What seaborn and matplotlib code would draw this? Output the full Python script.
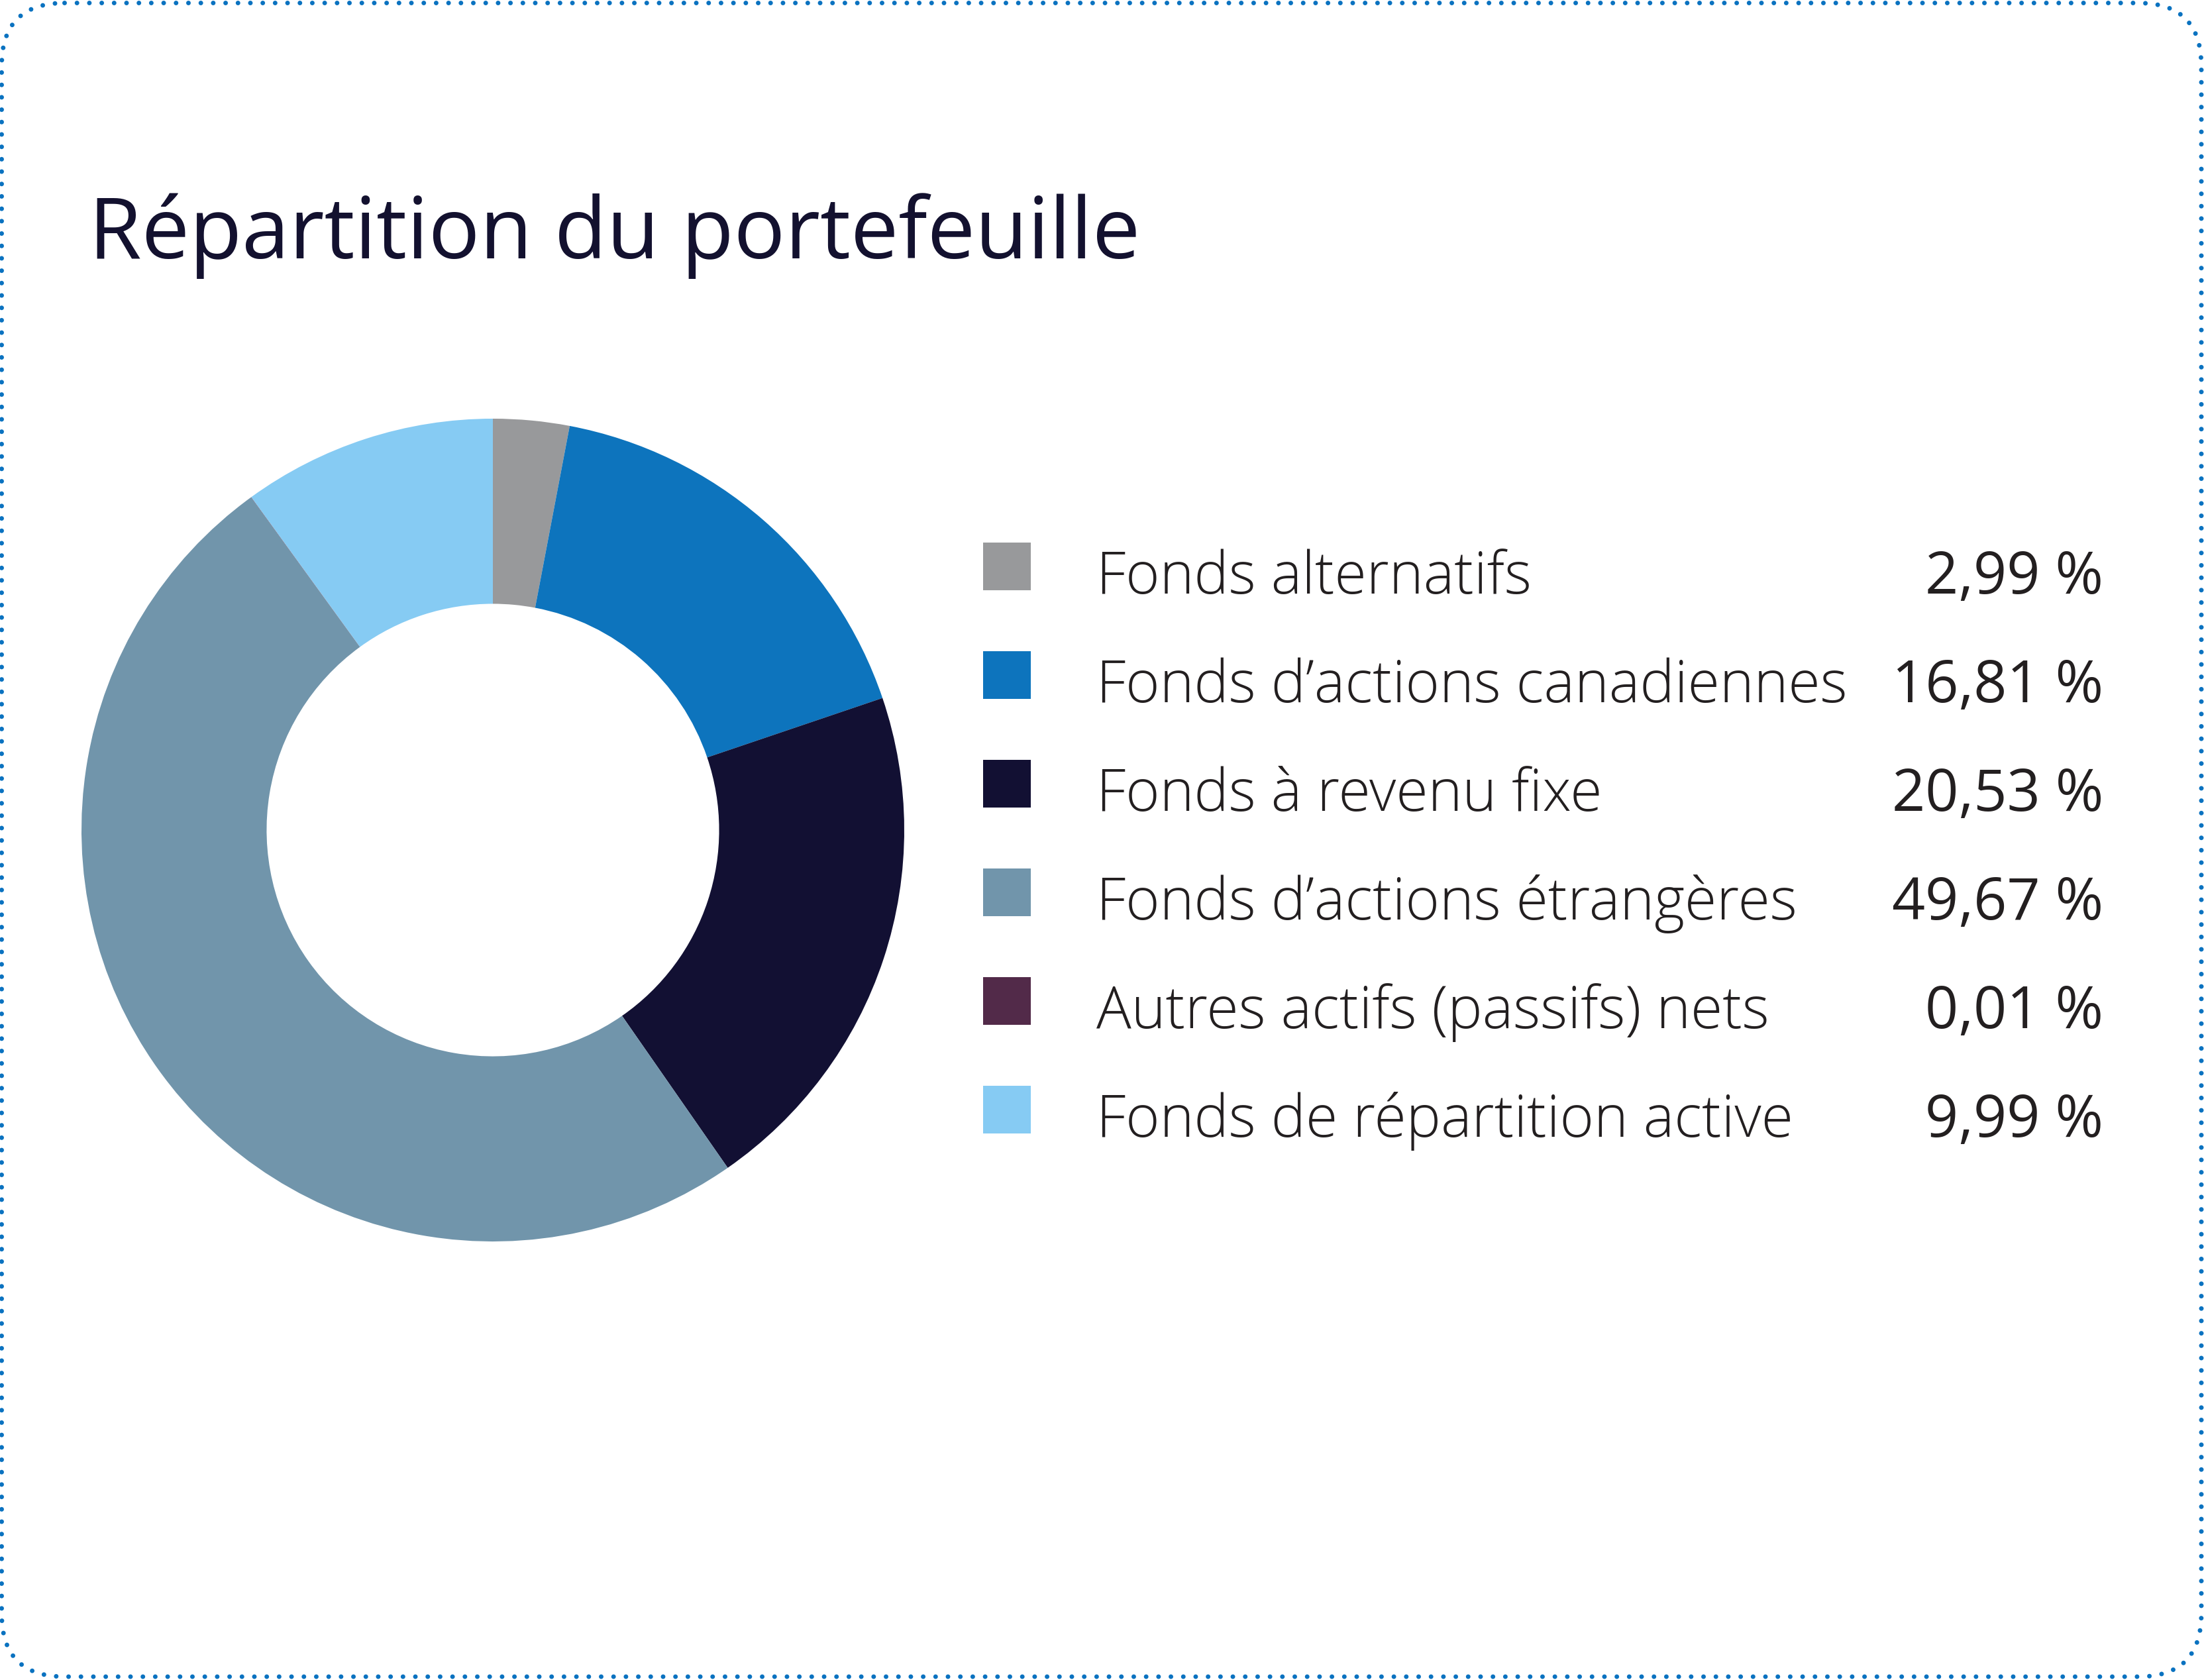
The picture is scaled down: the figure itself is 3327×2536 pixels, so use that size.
import matplotlib
matplotlib.use("Agg")
import matplotlib.pyplot as plt
from matplotlib.patches import FancyBboxPatch
import seaborn as sns
import pandas as pd

# chart data
categories = [
    "Fonds alternatifs",
    "Fonds d\u2019actions canadiennes",
    "Fonds \u00e0 revenu fixe",
    "Fonds d\u2019actions \u00e9trang\u00e8res",
    "Autres actifs (passifs) nets",
    "Fonds de r\u00e9partition active",
]
weights = [2.99, 16.81, 20.53, 49.67, 0.01, 9.99]
value_labels = ["2,99 %", "16,81 %", "20,53 %", "49,67 %", "0,01 %", "9,99 %"]
colors = ["#98999B", "#0D74BD", "#121033", "#7195AB", "#522A49", "#86CBF3"]
title = "R\u00e9partition du portefeuille"

W, H = 3327, 2536
DPI = 100

sns.set_theme(style="white")
plt.rcParams["font.family"] = ["Open Sans", "DejaVu Sans"]

df = pd.DataFrame({"category": categories, "weight": weights,
                   "label": value_labels, "row": range(len(categories))})
palette = sns.color_palette(colors)

fig = plt.figure(figsize=(W / DPI, H / DPI), dpi=DPI)
fig.patch.set_facecolor("white")

# background axes in pixel units for the dotted frame and title
bg = fig.add_axes([0, 0, 1, 1])
bg.set_xlim(0, W)
bg.set_ylim(H, 0)
bg.axis("off")
frame = FancyBboxPatch((2.5, 4.5), W - 2.5 - 4, H - 4.5 - 5,
                       boxstyle="round,pad=0,rounding_size=95",
                       facecolor="none", edgecolor="#0A72C0",
                       linewidth=7 * 72 / DPI, linestyle=(0, (0.001, 2.67)))
frame.set_capstyle("round")
bg.add_patch(frame)
bg.text(134, 390, title, fontsize=93, color="#13112F", ha="left", va="baseline")

# donut
cx, cy, r = 744, 1253, 621
ax = fig.add_axes([(cx - r) / W, (H - cy - r) / H, 2 * r / W, 2 * r / H])
ax.pie(df["weight"], colors=palette, startangle=90, counterclock=False,
       radius=1, wedgeprops=dict(width=0.45, linewidth=0, antialiased=True))
ax.set_xlim(-1, 1)
ax.set_ylim(-1, 1)
ax.set_aspect("equal")
ax.axis("off")

# legend table
row0, step = 855, 164
lx0, lx1 = 1440, 3200
top = row0 - step / 2
lg = fig.add_axes([lx0 / W, (H - top - step * len(df)) / H,
                   (lx1 - lx0) / W, step * len(df) / H])
lg.set_xlim(lx0, lx1)
lg.set_ylim(len(df) - 0.5, -0.5)
lg.axis("off")
sq = 72 * 72 / DPI
sns.scatterplot(data=df, x=[1520] * len(df), y="row", hue="category",
                palette=palette, marker="s", s=sq ** 2, linewidth=0,
                legend=False, ax=lg)
for _, rec in df.iterrows():
    lg.text(1655, rec["row"] + 0.25, rec["category"], fontsize=63.3,
            fontweight="light", color="#231F20", ha="left", va="baseline")
    lg.text(3175, rec["row"] + 0.25, rec["label"], fontsize=63.3,
            fontweight="normal", color="#231F20", ha="right", va="baseline")

fig.savefig("out.png", dpi=DPI, facecolor="white")
